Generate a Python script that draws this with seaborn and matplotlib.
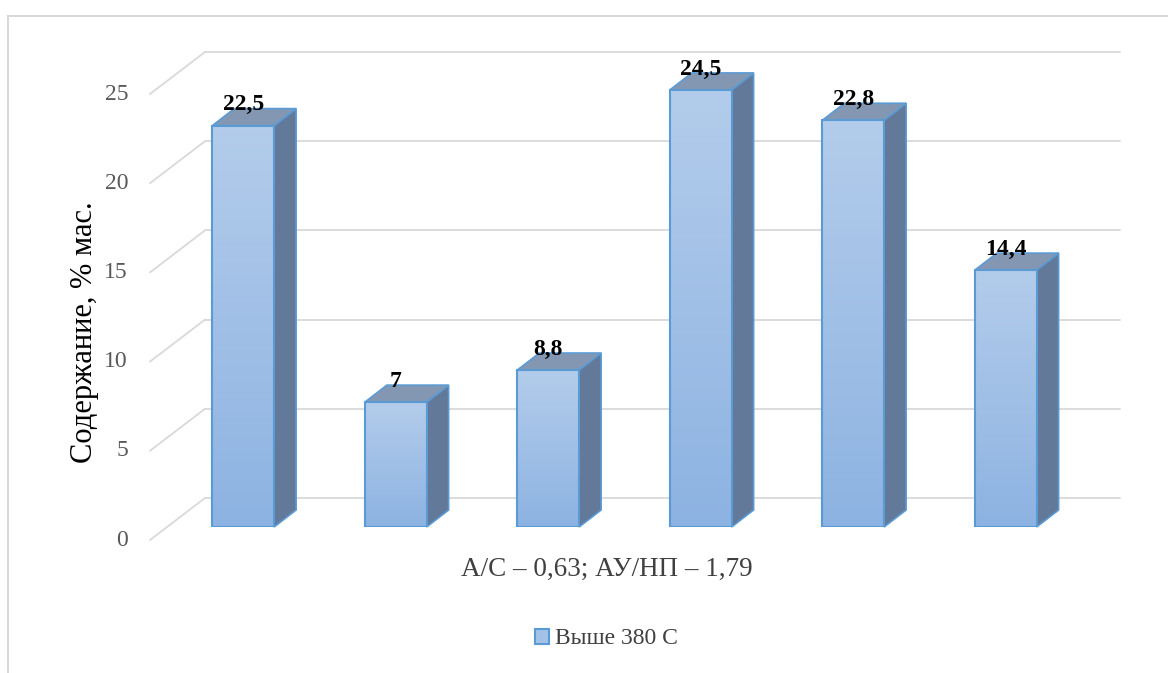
import numpy as np
import pandas as pd
import seaborn as sns
import matplotlib.pyplot as plt
from matplotlib.patches import Polygon, Rectangle, Patch
from matplotlib.colors import LinearSegmentedColormap

# data
bar_ids = ["1", "2", "3", "4", "5", "6"]
values = [22.5, 7, 8.8, 24.5, 22.8, 14.4]
value_labels = ["22,5", "7", "8,8", "24,5", "22,8", "14,4"]
y_ticks = [0, 5, 10, 15, 20, 25]
x_title = "А/С – 0,63; АУ/НП – 1,79"
y_title = "Содержание, % мас."
series_name = "Выше 380 С"

df = pd.DataFrame({"bar": bar_ids, "value": values})

sns.set_style("white")
plt.rcParams["font.family"] = ["Liberation Serif", "DejaVu Serif"]

fig = plt.figure(figsize=(11.68, 6.73), dpi=100)
W, H = 1168, 673
ax = fig.add_axes([167 / W, (673 - 527) / H, 915 / W, 446 / H])

sns.barplot(data=df, x="bar", y="value", width=0.405, ax=ax,
            color="#a4c2e8", saturation=1, zorder=3)
ax.set_xlim(-0.5, 5.5)
ax.set_ylim(0, 25)

# pixel -> data conversion for the 3d offsets
px_x = 6.0 / 915
px_y = 25.0 / 446
depth_dx, depth_dy = 22 * px_x, 17 * px_y      # bar depth
back_dx, back_dy = 38 * px_x, 29 * px_y        # back wall
front_dx, front_dy = -17 * px_x, -13 * px_y    # front floor edge

grid_c = "#d9d9d9"
x0, x1 = ax.get_xlim()
for v in y_ticks:
    ax.plot([x0 + back_dx, x1 + back_dx], [v + back_dy, v + back_dy],
            color=grid_c, lw=1.3, zorder=0, clip_on=False)
    ax.plot([x0 + front_dx, x0 + back_dx], [v + front_dy, v + back_dy],
            color=grid_c, lw=1.3, zorder=0, clip_on=False)
    ax.text(x0 + front_dx - 22 * px_x, v + front_dy, str(v), ha="right",
            va="center", fontsize=17, color="#595959")

# 3d faces and gradient fronts
grad = LinearSegmentedColormap.from_list("g", ["#8db3e2", "#b3cceb"])
edge_c = "#5b9bd5"
for p, lab in zip(ax.patches, value_labels):
    bx0, by0 = p.get_x(), p.get_y()
    bx1, by1 = bx0 + p.get_width(), by0 + p.get_height()
    img = ax.imshow(np.linspace(0, 1, 100).reshape(-1, 1), cmap=grad,
                    extent=[bx0, bx1, by0, by1], origin="lower",
                    aspect="auto", zorder=3)
    img.set_clip_path(p)
    p.set_facecolor("none")
    p.set_edgecolor(edge_c)
    p.set_linewidth(1.5)
    p.set_zorder(4)
    side = Polygon([(bx1, by0), (bx1 + depth_dx, by0 + depth_dy),
                    (bx1 + depth_dx, by1 + depth_dy), (bx1, by1)],
                   closed=True, facecolor="#62799a", edgecolor=edge_c,
                   lw=1.2, zorder=2, clip_on=False)
    top = Polygon([(bx0, by1), (bx0 + depth_dx, by1 + depth_dy),
                   (bx1 + depth_dx, by1 + depth_dy), (bx1, by1)],
                  closed=True, facecolor="#8397b2", edgecolor=edge_c,
                  lw=1.2, zorder=2, clip_on=False)
    ax.add_patch(side)
    ax.add_patch(top)
    ax.text((bx0 + bx1) / 2, by1 + depth_dy - 0.1, lab, ha="center",
            va="baseline", fontsize=17, fontweight="bold", color="black",
            zorder=6)

ax.set_xlim(-0.5, 5.5)
ax.set_ylim(0, 25)
ax.set_xticks([])
ax.set_yticks([])
ax.set_ylabel("")
ax.set_xlabel(x_title, fontsize=19.5, color="#404040")
ax.xaxis.set_label_coords((607 - 167) / 915, -(557 - 527) / 446)
ax.xaxis.label.set_va("top")
sns.despine(ax=ax, left=True, bottom=True)
ax.patch.set_alpha(0)

fig.text(85 / W, 1 - 332 / H, y_title, rotation=90, ha="center",
         va="center", fontsize=22, color="black")

handle = Patch(facecolor="#a4c2e8", edgecolor=edge_c, lw=1.5)
fig.legend([handle], [series_name], loc="center",
           bbox_to_anchor=(606 / W, 1 - 639 / H), frameon=False,
           fontsize=17, handlelength=0.6, handleheight=0.6,
           handletextpad=0.25, labelcolor="#404040")

# chart area border
fig.patches.append(Rectangle((8 / W, -0.05), 1.2, 1 - 16 / H + 0.05,
                             transform=fig.transFigure, fill=False,
                             edgecolor="#d9d9d9", lw=1.5))

fig.savefig("out.png", dpi=100)
